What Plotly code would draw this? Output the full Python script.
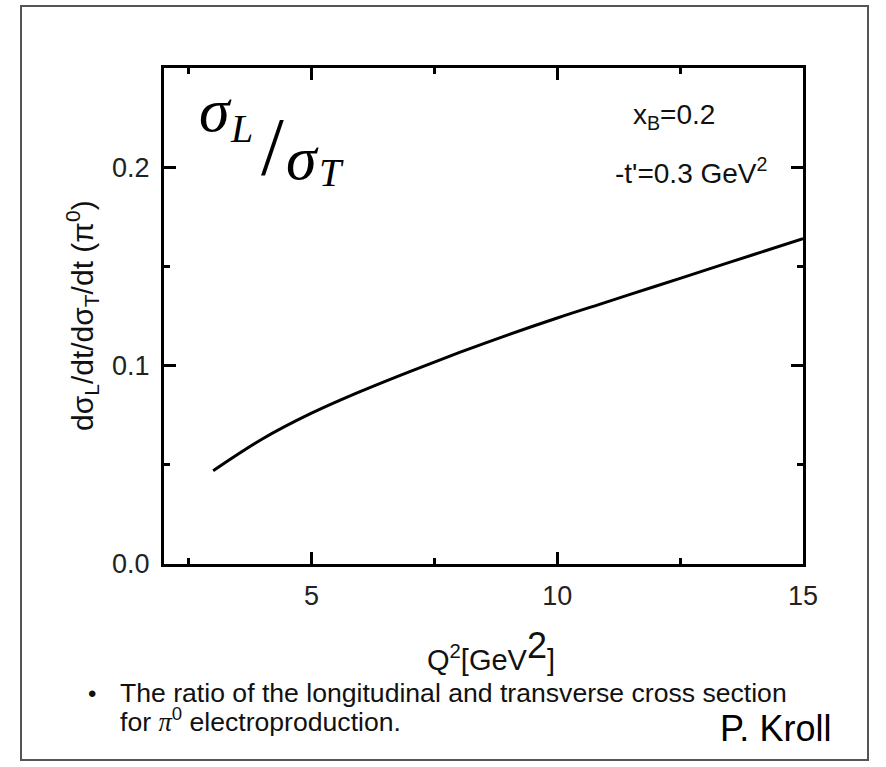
import plotly.graph_objects as go

# ---- data ----
q2 = [3, 4, 5, 6, 7, 8, 9, 10, 11, 12, 13, 14, 15]
ratio = [0.047, 0.063, 0.076, 0.087, 0.097, 0.1065, 0.1155, 0.124, 0.132, 0.140, 0.148, 0.156, 0.164]
x_ticks = [5, 10, 15]
x_minor = [2.5, 7.5, 12.5]
y_ticks = [0.0, 0.1, 0.2]
y_tick_labels = ["0.0", "0.1", "0.2"]
y_minor = [0.05, 0.15]

W, H = 886, 767
L, R, T, B = 164, 803, 68, 564


def px(x):
    return (x - L) / (R - L)


def py(y):
    return (B - y) / (B - T)


SANS = "Liberation Sans, Arial, sans-serif"
SERIF = "Liberation Serif, DejaVu Serif, serif"

fig = go.Figure()
fig.add_trace(go.Scatter(x=q2, y=ratio, mode="lines", line=dict(color="black", width=3, shape="spline"),
                         showlegend=False, hoverinfo="skip"))

axis_common = dict(
    ticks="inside", ticklen=12, tickwidth=2.5, tickcolor="black",
    showline=True, linewidth=3, linecolor="black", mirror="allticks",
    showgrid=False, zeroline=False,
    tickfont=dict(family=SANS, size=27, color="#222"),
)
fig.update_xaxes(range=[2, 15], tickvals=x_ticks, ticktext=[str(v) for v in x_ticks],
                 minor=dict(tickvals=x_minor, ticks="inside", ticklen=6, tickwidth=2.5, tickcolor="black"),
                 ticklabelstandoff=6, **axis_common)
fig.update_yaxes(range=[0, 0.25], tickvals=y_ticks, ticktext=y_tick_labels,
                 minor=dict(tickvals=y_minor, ticks="inside", ticklen=6, tickwidth=2.5, tickcolor="black"),
                 ticklabelstandoff=6, **axis_common)

ann = []


def add(text, x, y, size, family=SANS, xanchor="center", yanchor="middle", angle=0, color="#111"):
    ann.append(dict(text=text, x=px(x), y=py(y), xref="paper", yref="paper", showarrow=False,
                    xanchor=xanchor, yanchor=yanchor, textangle=angle,
                    font=dict(family=family, size=size, color=color)))


# sigma_L / sigma_T label
add("<i>σ</i>", 215, 110, 62, SERIF, color="black")
add("<i>L</i>", 241, 128, 40, SERIF, color="black")
add("/", 272, 146, 82, SERIF, color="black")
add("<i>σ</i>", 302, 158, 62, SERIF, color="black")
add("<i>T</i>", 331, 172, 40, SERIF, color="black")

# parameter text
add("x<sub>B</sub>=0.2", 674, 117, 28)
add("-t'=0.3 GeV<sup>2</sup>", 691, 171, 28)

# axis titles
add("dσ<sub>L</sub>/dt/dσ<sub>T</sub>/dt (π<sup>0</sup>)", 82, 316, 30, angle=-90)
add("Q<sup>2</sup>[GeV<sup><span style='font-size:36px'>2</span></sup>]", 491, 650, 29)

# bottom caption
add("•", 92, 693, 24, xanchor="center")
add("The ratio of the longitudinal and transverse cross section", 118, 693, 26.6, xanchor="left")
add("for <i style='font-family:Liberation Serif'>π</i><sup>0</sup> electroproduction.", 118, 720, 26.6,
    xanchor="left")
add("P. Kroll", 775, 728, 36, color="black")

shapes = [dict(type="rect", xref="paper", yref="paper", x0=px(21), x1=px(868), y0=py(760), y1=py(6),
               line=dict(color="#555", width=2), fillcolor="rgba(0,0,0,0)", layer="below")]

fig.update_layout(
    width=W, height=H, margin=dict(l=L, r=W - R, t=T, b=H - B),
    paper_bgcolor="white", plot_bgcolor="white",
    annotations=ann, shapes=shapes, showlegend=False,
)

fig.write_html("out.html")
